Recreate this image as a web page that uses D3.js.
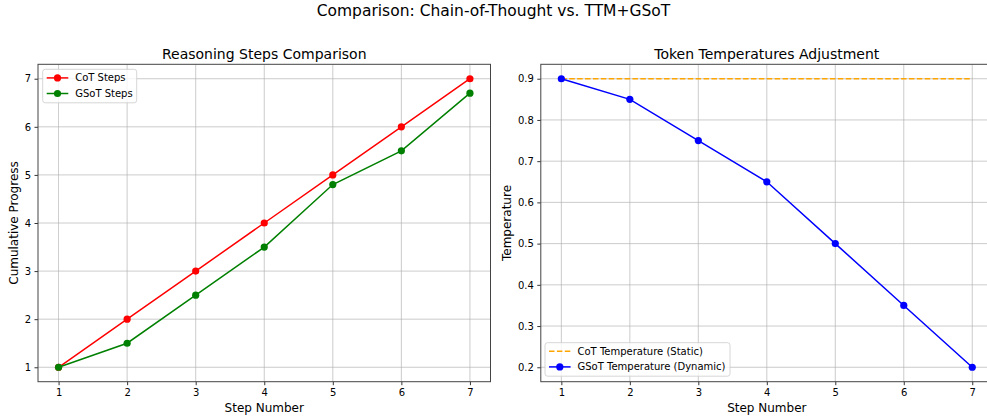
<!DOCTYPE html>
<html>
<head>
<meta charset="utf-8">
<script src="https://cdn.jsdelivr.net/npm/d3@7"></script>
<style>
  body { margin: 0; background: #fff; }
  svg text { font-family: "DejaVu Sans", sans-serif; fill: #000; }
</style>
</head>
<body>
<div id="wrapper"></div>
<script>
// data
const steps = [1, 2, 3, 4, 5, 6, 7]
const cotSteps = [1, 2, 3, 4, 5, 6, 7]
const gsotSteps = [1, 1.5, 2.5, 3.5, 4.8, 5.5, 6.7]
const cotTemp = [0.9, 0.9, 0.9, 0.9, 0.9, 0.9, 0.9]
const gsotTemp = [0.9, 0.85, 0.75, 0.65, 0.5, 0.35, 0.2]
const leftTicks = [1, 2, 3, 4, 5, 6, 7]
const rightTicks = [0.2, 0.3, 0.4, 0.5, 0.6, 0.7, 0.8, 0.9]

const W = 987, H = 418

const svg = d3.select("#wrapper").append("svg")
    .attr("width", W).attr("height", H)

svg.append("text")
    .attr("x", W / 2).attr("y", 16)
    .attr("text-anchor", "middle")
    .attr("font-size", 15.5)
    .text("Comparison: Chain-of-Thought vs. TTM+GSoT")

// draws one panel
function panel(opts) {
    const x = d3.scaleLinear().domain([0.7, 7.3]).range([opts.left, opts.right])
    const pad = (opts.yDomain[1] - opts.yDomain[0]) * 0.05
    const y = d3.scaleLinear()
        .domain([opts.yDomain[0] - pad, opts.yDomain[1] + pad])
        .range([381.7, 64.3])

    const g = svg.append("g")
    const clipId = "clip" + opts.id
    svg.append("clipPath").attr("id", clipId)
        .append("rect")
        .attr("x", opts.left).attr("y", 64.3)
        .attr("width", opts.right - opts.left).attr("height", 381.7 - 64.3)

    // grid
    g.append("g").selectAll("line").data(steps).enter().append("line")
        .attr("x1", d => x(d)).attr("x2", d => x(d))
        .attr("y1", 64.3).attr("y2", 381.7)
        .attr("stroke", "#b0b0b0").attr("stroke-width", 0.8).attr("opacity", 0.8)
    g.append("g").selectAll("line").data(opts.yTicks).enter().append("line")
        .attr("x1", opts.left).attr("x2", opts.right)
        .attr("y1", d => y(d)).attr("y2", d => y(d))
        .attr("stroke", "#b0b0b0").attr("stroke-width", 0.8).attr("opacity", 0.8)

    // axes
    const xAxis = g.append("g")
        .attr("transform", "translate(0,381.7)")
        .call(d3.axisBottom(x).tickValues(steps).tickSize(3.5).tickPadding(3.5).tickFormat(d3.format("d")))
    const yAxis = g.append("g")
        .attr("transform", `translate(${opts.left},0)`)
        .call(d3.axisLeft(y).tickValues(opts.yTicks).tickSize(3.5).tickPadding(3.5).tickFormat(opts.fmt))
    for (const a of [xAxis, yAxis]) {
        a.select(".domain").remove()
        a.selectAll(".tick text").attr("font-size", 10).attr("font-family", "DejaVu Sans, sans-serif")
        a.selectAll(".tick line").attr("stroke", "#000").attr("stroke-width", 0.8)
    }

    // lines
    const plot = g.append("g").attr("clip-path", `url(#${clipId})`)
    for (const s of opts.series) {
        const line = d3.line().x((d, i) => x(steps[i])).y(d => y(d))
        plot.append("path").datum(s.values)
            .attr("d", line).attr("fill", "none")
            .attr("stroke", s.color).attr("stroke-width", 1.5)
            .attr("stroke-dasharray", s.dash ? "5.5,2.4" : null)
        if (s.marker) {
            plot.append("g").selectAll("circle").data(s.values).enter().append("circle")
                .attr("cx", (d, i) => x(steps[i])).attr("cy", d => y(d))
                .attr("r", 3.6).attr("fill", s.color)
        }
    }

    // frame
    g.append("rect")
        .attr("x", opts.left).attr("y", 64.3)
        .attr("width", opts.right - opts.left).attr("height", 381.7 - 64.3)
        .attr("fill", "none").attr("stroke", "#444").attr("stroke-width", 1)

    // titles
    g.append("text")
        .attr("x", (opts.left + opts.right) / 2).attr("y", 58.5)
        .attr("text-anchor", "middle").attr("font-size", 14)
        .text(opts.title)
    g.append("text")
        .attr("x", x(4)).attr("y", 412.3)
        .attr("text-anchor", "middle").attr("font-size", 12)
        .text("Step Number")
    g.append("text")
        .attr("transform", `translate(${opts.yLabelX},${(64.3 + 381.7) / 2}) rotate(-90)`)
        .attr("text-anchor", "middle").attr("font-size", 12)
        .text(opts.yLabel)

    // legend
    const lg = g.append("g").attr("transform", `translate(${opts.legend.x},${opts.legend.y})`)
    lg.append("rect")
        .attr("width", opts.legend.w).attr("height", 33.5)
        .attr("rx", 2.5)
        .attr("fill", "#fff").attr("fill-opacity", 0.8)
        .attr("stroke", "#ccc").attr("stroke-width", 0.8)
    opts.series.forEach(function(s, i) {
        const yy = 8.6 + i * 15.6
        lg.append("line")
            .attr("x1", 4).attr("x2", 25.6).attr("y1", yy).attr("y2", yy)
            .attr("stroke", s.color).attr("stroke-width", 1.5)
            .attr("stroke-dasharray", s.dash ? "5.5,2.4" : null)
        if (s.marker) {
            lg.append("circle").attr("cx", 14.8).attr("cy", yy).attr("r", 3.6).attr("fill", s.color)
        }
        lg.append("text")
            .attr("x", 32.5).attr("y", yy + 3.6)
            .attr("font-size", 10)
            .text(s.name)
    })
}

panel({
    id: "a", left: 38, right: 490.5,
    yDomain: [1, 7], yTicks: leftTicks, fmt: d3.format("d"),
    title: "Reasoning Steps Comparison", yLabel: "Cumulative Progress", yLabelX: 18,
    legend: {x: 42.7, y: 69.3, w: 94},
    series: [
        {name: "CoT Steps", values: cotSteps, color: "red", marker: true},
        {name: "GSoT Steps", values: gsotSteps, color: "green", marker: true}
    ]
})

panel({
    id: "b", left: 540.8, right: 992.8,
    yDomain: [0.2, 0.9], yTicks: rightTicks, fmt: d3.format(".1f"),
    title: "Token Temperatures Adjustment", yLabel: "Temperature", yLabelX: 511,
    legend: {x: 545, y: 342.7, w: 185},
    series: [
        {name: "CoT Temperature (Static)", values: cotTemp, color: "orange", dash: true},
        {name: "GSoT Temperature (Dynamic)", values: gsotTemp, color: "blue", marker: true}
    ]
})
</script>
</body>
</html>
